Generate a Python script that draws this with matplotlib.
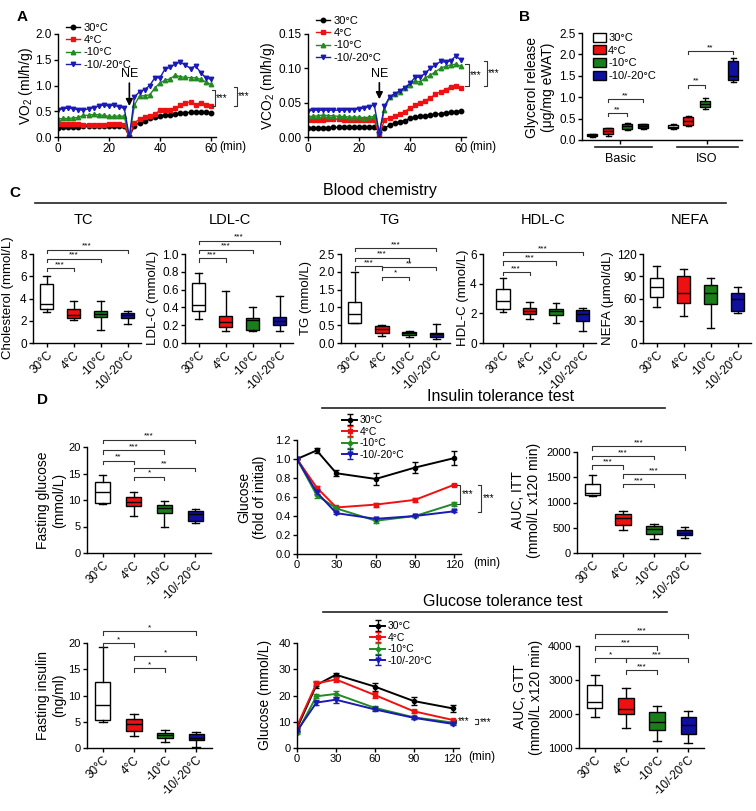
import numpy as np
import matplotlib
matplotlib.use('Agg')
from matplotlib import pyplot as plt
from matplotlib.lines import Line2D
from matplotlib.patches import Patch

plt.rcParams['font.family'] = ['Liberation Sans', 'DejaVu Sans']
plt.rcParams['mathtext.fontset'] = 'custom'
plt.rcParams['mathtext.rm'] = 'Liberation Sans'
plt.rcParams['mathtext.it'] = 'Liberation Sans:italic'
plt.rcParams['axes.linewidth'] = 1.0

# ---------------- data ----------------
groups = ['30°C', '4°C', '-10°C', '-10/-20°C']
line_cols = ['black', '#ee1111', '#228b22', '#1a1ab4']
box_cols = ['white', '#ee1111', '#1a7f1a', '#1010a0']

# A: oxygen consumption / CO2 production, NE injected at 28 min
minutes = [0, 2, 4, 6, 8, 10, 12, 14, 16, 18, 20, 22, 24, 26, 28, 30,
           32, 34, 36, 38, 40, 42, 44, 46, 48, 50, 52, 54, 56, 58, 60]
vo2_30 = [0.18, 0.19, 0.19, 0.20, 0.20, 0.21, 0.21, 0.21, 0.22, 0.22, 0.22, 0.22, 0.22, 0.22, 0.0,
          0.22, 0.28, 0.32, 0.36, 0.38, 0.41, 0.42, 0.43, 0.45, 0.46, 0.47, 0.48, 0.48, 0.48, 0.48, 0.47]
vo2_4 = [0.26, 0.26, 0.25, 0.25, 0.25, 0.24, 0.24, 0.24, 0.24, 0.24, 0.25, 0.25, 0.25, 0.24, 0.0,
         0.27, 0.35, 0.38, 0.40, 0.44, 0.52, 0.53, 0.53, 0.56, 0.62, 0.66, 0.68, 0.63, 0.66, 0.63, 0.61]
vo2_10 = [0.35, 0.36, 0.36, 0.37, 0.38, 0.42, 0.42, 0.44, 0.43, 0.42, 0.40, 0.40, 0.41, 0.40, 0.0,
          0.62, 0.80, 0.80, 0.82, 0.95, 1.05, 1.10, 1.13, 1.20, 1.17, 1.16, 1.15, 1.15, 1.12, 1.07, 1.02]
vo2_20 = [0.52, 0.55, 0.56, 0.55, 0.53, 0.52, 0.55, 0.57, 0.60, 0.62, 0.60, 0.62, 0.58, 0.56, 0.0,
          0.78, 0.88, 0.92, 1.00, 1.15, 1.15, 1.32, 1.35, 1.42, 1.45, 1.40, 1.33, 1.38, 1.25, 1.15, 1.12]
vco2_30 = [0.013, 0.013, 0.013, 0.013, 0.013, 0.014, 0.014, 0.014, 0.014, 0.014, 0.014, 0.014, 0.014, 0.014, 0.008,
           0.013, 0.017, 0.020, 0.022, 0.024, 0.027, 0.029, 0.030, 0.031, 0.032, 0.033, 0.034, 0.035, 0.036, 0.037, 0.038]
vco2_4 = [0.025, 0.025, 0.025, 0.025, 0.026, 0.026, 0.026, 0.025, 0.025, 0.025, 0.025, 0.025, 0.025, 0.025, 0.002,
          0.025, 0.028, 0.030, 0.033, 0.037, 0.042, 0.046, 0.050, 0.053, 0.057, 0.062, 0.066, 0.069, 0.073, 0.075, 0.072]
vco2_10 = [0.030, 0.030, 0.031, 0.032, 0.031, 0.031, 0.030, 0.030, 0.029, 0.029, 0.029, 0.028, 0.029, 0.030, 0.008,
           0.040, 0.058, 0.063, 0.066, 0.072, 0.076, 0.082, 0.080, 0.086, 0.090, 0.095, 0.100, 0.103, 0.105, 0.106, 0.103]
vco2_20 = [0.038, 0.039, 0.039, 0.039, 0.039, 0.039, 0.039, 0.039, 0.040, 0.040, 0.041, 0.042, 0.044, 0.047, 0.005,
           0.045, 0.058, 0.063, 0.067, 0.072, 0.078, 0.087, 0.087, 0.093, 0.100, 0.105, 0.110, 0.109, 0.111, 0.118, 0.112]

# box stats: [whisker low, q1, median, q3, whisker high]
glyc_basic = [[0.08, 0.10, 0.12, 0.14, 0.15], [0.09, 0.14, 0.20, 0.27, 0.28],
              [0.24, 0.25, 0.32, 0.38, 0.39], [0.26, 0.27, 0.33, 0.37, 0.38]]
glyc_iso = [[0.25, 0.27, 0.31, 0.35, 0.37], [0.33, 0.36, 0.45, 0.53, 0.55],
            [0.72, 0.77, 0.85, 0.92, 0.97], [1.35, 1.40, 1.50, 1.85, 1.92]]
tc_box = [[2.8, 3.1, 3.55, 5.3, 6.05], [2.1, 2.25, 2.55, 3.1, 3.8],
          [1.2, 2.3, 2.6, 2.9, 3.8], [1.7, 2.25, 2.5, 2.7, 2.85]]
ldl_box = [[0.27, 0.36, 0.43, 0.67, 0.79], [0.13, 0.18, 0.24, 0.30, 0.58],
           [0.13, 0.15, 0.26, 0.28, 0.41], [0.14, 0.20, 0.25, 0.29, 0.53]]
tg_box = [[0.56, 0.57, 0.81, 1.15, 2.0], [0.20, 0.29, 0.39, 0.48, 0.50],
          [0.17, 0.22, 0.27, 0.31, 0.34], [0.10, 0.18, 0.24, 0.29, 0.53]]
hdl_box = [[2.07, 2.29, 2.84, 3.65, 4.37], [1.59, 1.93, 2.16, 2.38, 2.75],
           [1.32, 1.89, 2.16, 2.29, 2.68], [0.82, 1.5, 1.93, 2.23, 2.34]]
nefa_box = [[48, 62, 75, 88, 104], [37, 54, 67, 90, 100],
            [20, 52, 68, 78, 87], [40, 43, 60, 67, 76]]
fglu_box = [[9.25, 9.4, 11.6, 13.4, 14.7], [7.0, 8.9, 9.7, 10.5, 11.5],
            [4.9, 7.5, 8.4, 9.1, 9.8], [5.75, 6.1, 7.4, 8.0, 8.25]]
auc_itt_box = [[1120, 1139, 1198, 1368, 1544], [455, 553, 696, 781, 826],
               [272, 383, 481, 533, 579], [305, 357, 403, 448, 520]]
fins_box = [[4.9, 5.4, 8.1, 12.6, 19.2], [2.2, 3.3, 4.6, 5.5, 6.5],
            [1.1, 1.9, 2.5, 2.9, 3.5], [0.2, 1.5, 2.0, 2.7, 3.0]]
auc_gtt_box = [[1900, 2176, 2363, 2862, 3147], [1588, 2000, 2147, 2460, 2755],
               [1206, 1539, 1755, 2049, 2225], [1137, 1402, 1677, 1912, 2088]]

# significance: (group i, group j, height, label)
tc_sig = [(1, 2, 6.74, '***'), (1, 3, 7.58, '***'), (1, 4, 8.4, '***')]
ldl_sig = [(1, 2, 0.95, '***'), (1, 3, 1.05, '***'), (1, 4, 1.15, '***')]
tg_sig = [(1, 2, 2.15, '***'), (1, 3, 2.4, '***'), (1, 4, 2.67, '***'),
          (2, 4, 2.13, '**'), (2, 3, 1.86, '*')]
hdl_sig = [(1, 2, 4.78, '***'), (1, 3, 5.5, '***'), (1, 4, 6.14, '***')]
fglu_sig = [(1, 2, 17.4, '**'), (1, 3, 19.4, '***'), (1, 4, 21.4, '***'),
            (2, 3, 14.4, '*'), (2, 4, 16.1, '**')]
auc_itt_sig = [(1, 2, 1739, '***'), (1, 3, 1922, '***'), (1, 4, 2111, '***'),
               (2, 3, 1368, '***'), (2, 4, 1557, '***')]
fins_sig = [(1, 2, 20.0, '*'), (1, 4, 22.3, '*'), (2, 3, 15.2, '*'), (2, 4, 17.5, '*')]
auc_gtt_sig = [(1, 2, 3637, '*'), (1, 3, 3990, '***'), (1, 4, 4352, '***'),
               (2, 3, 3294, '***'), (2, 4, 3637, '***')]

# D: tolerance tests
tt_min = [0, 15, 30, 60, 90, 120]
itt_mean = [[1.0, 1.09, 0.85, 0.79, 0.91, 1.01], [1.0, 0.70, 0.49, 0.52, 0.57, 0.73],
            [1.0, 0.62, 0.48, 0.35, 0.40, 0.53], [1.0, 0.65, 0.43, 0.37, 0.40, 0.45]]
itt_err = [[0, 0.03, 0.03, 0.06, 0.06, 0.07], [0, 0.02, 0.01, 0.02, 0.02, 0.01],
           [0, 0.03, 0.01, 0.02, 0.01, 0.02], [0, 0.02, 0.01, 0.01, 0.01, 0.01]]
gtt_mean = [[7.5, 24.0, 27.9, 23.4, 17.9, 15.1], [8.3, 24.6, 26.1, 20.2, 14.0, 10.7],
            [5.8, 19.7, 20.6, 15.3, 11.7, 9.7], [6.5, 17.3, 18.4, 14.7, 11.5, 9.2]]
gtt_err = [[1.0, 1.0, 0.8, 1.5, 1.4, 1.3], [0.5, 1.0, 1.0, 1.2, 0.5, 0.5],
           [0.3, 0.7, 1.2, 0.7, 0.5, 0.4], [0.3, 1.0, 1.1, 0.6, 0.4, 0.3]]

# ---------------- helpers ----------------
W, H = 756, 811
fig = plt.figure(figsize=(W / 100, H / 100), dpi=100)


def add_ax(x0, ytop, x1, ybot):
    ax = fig.add_axes([x0 / W, 1 - ybot / H, (x1 - x0) / W, (ybot - ytop) / H])
    for s in ['top', 'right']:
        ax.spines[s].set_visible(False)
    ax.tick_params(direction='out', length=3, width=1, labelsize=8, pad=1.5)
    return ax


def ftext(x, y, s, **kw):
    fig.text(x / W, 1 - y / H, s, **kw)


def fline(x0, x1, y, lw=1.2):
    fig.add_artist(Line2D([x0 / W, x1 / W], [1 - y / H] * 2, color='#222222', lw=lw))


def draw_boxes(ax, data, pos, width, cols):
    stats = [dict(whislo=d[0], q1=d[1], med=d[2], q3=d[3], whishi=d[4]) for d in data]
    bp = ax.bxp(stats, positions=pos, widths=width, patch_artist=True, showfliers=False,
                boxprops=dict(edgecolor='k', linewidth=1),
                medianprops=dict(color='k', linewidth=1),
                whiskerprops=dict(color='k', linewidth=1),
                capprops=dict(color='k', linewidth=1), manage_ticks=False)
    for patch, c in zip(bp['boxes'], cols):
        patch.set_facecolor(c)


def sig(ax, x1, x2, y, txt, h):
    ax.plot([x1, x1, x2, x2], [y - h, y, y, y - h], color='#333333', lw=0.8, clip_on=False)
    ax.text((x1 + x2) / 2, y, txt, ha='center', va='bottom', fontsize=6, clip_on=False)


def side(ax, x, y1, y2, txt, w):
    ax.plot([x - w, x, x, x - w], [y1, y1, y2, y2], color='#333333', lw=0.8, clip_on=False)
    ax.text(x + w * 0.4, (y1 + y2) / 2, txt, ha='left', va='center', fontsize=7, clip_on=False)


def box_panel(box_ax, data, ylim, yticks, sigs, xlim=(0.5, 4.5)):
    draw_boxes(box_ax, data, [1, 2, 3, 4], 0.5, box_cols)
    box_ax.set_xlim(*xlim)
    box_ax.set_ylim(*ylim)
    box_ax.set_yticks(yticks)
    box_ax.set_xticks([1, 2, 3, 4])
    box_ax.set_xticklabels(groups, rotation=45, ha='right', rotation_mode='anchor', fontsize=8.5)
    h = 0.035 * (ylim[1] - ylim[0])
    for i, j, y, t in sigs:
        sig(box_ax, i, j, y, t, h)


# ---------------- panel letters / headers ----------------
ftext(22, 17, 'A', fontsize=11, fontweight='bold', ha='center', va='center')
ftext(525, 17, 'B', fontsize=11, fontweight='bold', ha='center', va='center')
ftext(15, 193, 'C', fontsize=11, fontweight='bold', ha='center', va='center')
ftext(43, 400, 'D', fontsize=11, fontweight='bold', ha='center', va='center')

ftext(380, 191, 'Blood chemistry', fontsize=11.5, ha='center', va='center')
fline(35, 726, 203)
ftext(501, 397, 'Insulin tolerance test', fontsize=11.5, ha='center', va='center')
fline(322, 665, 408)
ftext(503, 602, 'Glucose tolerance test', fontsize=11.5, ha='center', va='center')
fline(323, 667, 612)

# ---------------- A ----------------
a_markers = ['o', 's', '^', 'v']
for (x0, x1, series, ylim, yticks, fmt, ylab, lx, legy, ne, brk) in [
        (58, 216, [vo2_30, vo2_4, vo2_10, vo2_20], (0, 2.0), [0, 0.5, 1.0, 1.5, 2.0], '%.1f',
         'VO$_2$ (ml/h/g)', 26, 17, (1.1, 0.6), [(61.6, 0.92, 0.61), (70.2, 0.97, 0.61)]),
        (308, 466, [vco2_30, vco2_4, vco2_10, vco2_20], (0, 0.15), [0, 0.05, 0.10, 0.15], '%.2f',
         'VCO$_2$ (ml/h/g)', 268, 10, (0.083, 0.055), [(63.0, 0.106, 0.074), (70.2, 0.111, 0.074)])]:
    ax = add_ax(x0, 34, x1, 137)
    hs = []
    for s, c, m, g in zip(series, line_cols, a_markers, groups):
        hl, = ax.plot(minutes, s, color=c, marker=m, ms=3.2, lw=1.0, label=g)
        hs.append(hl)
    ax.set_xlim(0, 62)
    ax.set_ylim(*ylim)
    ax.set_xticks([0, 20, 40, 60])
    ax.set_yticks(yticks)
    ax.tick_params(labelsize=8.5)
    ax.yaxis.set_major_formatter(matplotlib.ticker.FormatStrFormatter(fmt))
    ax.annotate('NE', xy=(28, ne[1]), xytext=(28, ne[0]), ha='center', va='bottom', fontsize=9,
                arrowprops=dict(arrowstyle='-|>', color='k', lw=1.2, mutation_scale=10, shrinkA=0, shrinkB=0))
    w = 1.2
    side(ax, brk[0][0], brk[0][1], brk[0][2], '***', w)
    side(ax, brk[1][0], brk[1][1], brk[1][2], '***', w)
    ftext(lx, 86, ylab, rotation=90, ha='center', va='center', fontsize=10)
    ftext(x0 + 175, 147, '(min)', ha='center', va='center', fontsize=8.5)
    ax.legend(handles=hs, loc='upper left', bbox_to_anchor=((x0 + 2) / W, 1 - legy / H),
              bbox_transform=fig.transFigure, frameon=False, fontsize=8, handlelength=1.3,
              labelspacing=0.22, borderpad=0, handletextpad=0.3)

# ---------------- B ----------------
ax = add_ax(582, 33, 742, 140)
draw_boxes(ax, glyc_basic + glyc_iso, [10, 26, 45, 61, 91, 106, 123, 151], 10, box_cols * 2)
ax.set_xlim(0, 160)
ax.set_ylim(0, 2.5)
ax.set_yticks([0, 0.5, 1.0, 1.5, 2.0, 2.5])
ax.tick_params(labelsize=8.5)
ax.yaxis.set_major_formatter(matplotlib.ticker.FormatStrFormatter('%.1f'))
ax.set_xticks([38, 125])
ax.set_xticklabels(['Basic', 'ISO'], fontsize=9)
ax.tick_params(axis='x', pad=6)
tr = ax.get_xaxis_transform()
ax.plot([13, 70], [-0.065, -0.065], color='#222222', lw=1.2, transform=tr, clip_on=False)
ax.plot([95, 156], [-0.065, -0.065], color='#222222', lw=1.2, transform=tr, clip_on=False)
for i, j, y, t in [(26, 45, 0.63, '**'), (26, 61, 0.96, '**'), (106, 123, 1.29, '**'), (106, 151, 2.07, '**')]:
    sig(ax, i, j, y, t, 0.07)
ftext(540, 87, 'Glycerol release\n(μg/mg eWAT)', rotation=90, ha='center', va='center', fontsize=10)
ax.legend(handles=[Patch(facecolor=c, edgecolor='k', label=g) for c, g in zip(box_cols, groups)],
          loc='upper left', bbox_to_anchor=(587 / W, 1 - 27 / H), bbox_transform=fig.transFigure,
          frameon=False, fontsize=8, handlelength=1.2, handleheight=0.9, labelspacing=0.2,
          borderpad=0, handletextpad=0.2)

# ---------------- C ----------------
c_specs = [
    ((33, 141), 'TC', 83, tc_box, (0, 8), [0, 2, 4, 6, 8], tc_sig, 'Cholesterol (mmol/L)', 8, (0.5, 4.5)),
    ((185, 293), 'LDL-C', 230, ldl_box, (0, 1.0), [0, 0.2, 0.4, 0.6, 0.8, 1.0], ldl_sig, 'LDL-C (mmol/L)', 153, (0.5, 4.5)),
    ((341, 450), 'TG', 390, tg_box, (0, 2.5), [0, 0.5, 1.0, 1.5, 2.0, 2.5], tg_sig, 'TG (mmol/L)', 306, (0.5, 4.5)),
    ((483, 596), 'HDL-C', 543, hdl_box, (0, 6), [0, 2, 4, 6], hdl_sig, 'HDL-C (mmol/L)', 463, (0.25, 4.5)),
    ((643, 751), 'NEFA', 690, nefa_box, (0, 120), [0, 30, 60, 90, 120], [], 'NEFA (μmol/dL)', 608, (0.5, 4.5)),
]
for (xr, title, tx, data, ylim, yticks, sigs, ylab, lx, xlim) in c_specs:
    ax = add_ax(xr[0], 254, xr[1], 343)
    box_panel(ax, data, ylim, yticks, sigs, xlim)
    ax.tick_params(axis='y', labelsize=8.5)
    if title == 'LDL-C':
        ax.yaxis.set_major_formatter(matplotlib.ticker.FormatStrFormatter('%.1f'))
    if title == 'TG':
        ax.set_yticklabels(['0.0', '0.5', '1.0', '1.5', '2.0', '2.5'])
    ftext(tx, 220, title, ha='center', va='center', fontsize=10.5)
    ftext(lx, 298, ylab, rotation=90, ha='center', va='center', fontsize=9.5)

# ---------------- D top row ----------------
ax = add_ax(87, 447, 211, 553)
box_panel(ax, fglu_box, (0, 20), [0, 5, 10, 15, 20], fglu_sig)
ftext(51, 500, 'Fasting glucose\n(mmol/L)', rotation=90, ha='center', va='center', fontsize=10)

d_markers = ['o', 's', 'D', 'v']
d_ms = [3, 3.5, 2.5, 3.5]
ax = add_ax(297, 440, 461, 554)
hs = []
for m_, e_, c, mk, ms, g in zip(itt_mean, itt_err, line_cols, d_markers, d_ms, groups):
    eb = ax.errorbar(tt_min, m_, yerr=e_, color=c, marker=mk, ms=ms, lw=1.4, capsize=2.5,
                     elinewidth=1, capthick=1, label=g)
    hs.append(eb)
ax.set_xlim(0, 125)
ax.set_ylim(0, 1.2)
ax.set_xticks([0, 30, 60, 90, 120])
ax.set_yticks([0, 0.2, 0.4, 0.6, 0.8, 1.0, 1.2])
ax.yaxis.set_major_formatter(matplotlib.ticker.FormatStrFormatter('%.1f'))
side(ax, 124.5, 0.73, 0.53, '***', 2.3)
side(ax, 140.5, 0.73, 0.44, '***', 2.3)
ftext(487, 563, '(min)', ha='center', va='center', fontsize=8.5)
ftext(252, 497, 'Glucose\n(fold of initial)', rotation=90, ha='center', va='center', fontsize=10)
ax.legend(handles=hs, loc='upper left', bbox_to_anchor=(337 / W, 1 - 410 / H), bbox_transform=fig.transFigure,
          frameon=False, fontsize=7.5, handlelength=1.4, labelspacing=0.15, borderpad=0, handletextpad=0.3)

ax = add_ax(577, 452, 700, 553)
box_panel(ax, auc_itt_box, (0, 2000), [0, 500, 1000, 1500, 2000], auc_itt_sig)
ftext(526, 500, 'AUC, ITT\n(mmol/L x120 min)', rotation=90, ha='center', va='center', fontsize=10)

# ---------------- D bottom row ----------------
ax = add_ax(87, 643, 212, 748)
box_panel(ax, fins_box, (0, 20), [0, 5, 10, 15, 20], fins_sig)
ftext(51, 695, 'Fasting insulin\n(ng/ml)', rotation=90, ha='center', va='center', fontsize=10)

ax = add_ax(297, 643, 459, 748)
hs = []
for m_, e_, c, mk, ms, g in zip(gtt_mean, gtt_err, line_cols, d_markers, d_ms, groups):
    eb = ax.errorbar(tt_min, m_, yerr=e_, color=c, marker=mk, ms=ms, lw=1.4, capsize=2.5,
                     elinewidth=1, capthick=1, label=g)
    hs.append(eb)
ax.set_xlim(0, 125)
ax.set_ylim(0, 40)
ax.set_xticks([0, 30, 60, 90, 120])
ax.set_yticks([0, 10, 20, 30, 40])
side(ax, 123, 10.7, 9.7, '***', 2.3)
side(ax, 140, 10.9, 9.2, '***', 2.3)
ftext(482, 757, '(min)', ha='center', va='center', fontsize=8.5)
ftext(265, 695, 'Glucose (mmol/L)', rotation=90, ha='center', va='center', fontsize=10)
ax.legend(handles=hs, loc='upper left', bbox_to_anchor=(365 / W, 1 - 616 / H), bbox_transform=fig.transFigure,
          frameon=False, fontsize=7.5, handlelength=1.4, labelspacing=0.15, borderpad=0, handletextpad=0.3)

ax = add_ax(579, 646, 704, 748)
box_panel(ax, auc_gtt_box, (1000, 4000), [1000, 2000, 3000, 4000], auc_gtt_sig)
ftext(528, 697, 'AUC, GTT\n(mmol/L x120 min)', rotation=90, ha='center', va='center', fontsize=10)

fig.savefig('out.png', dpi=100)
